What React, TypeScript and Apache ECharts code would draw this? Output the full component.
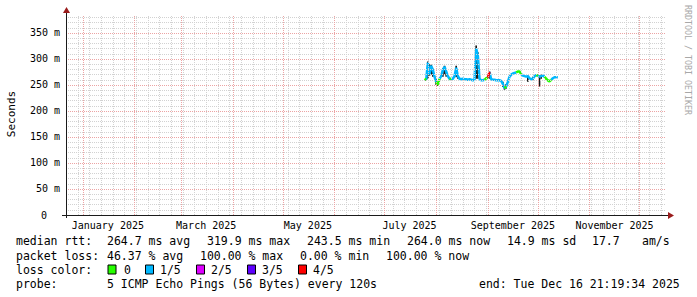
import { useEffect, useRef } from 'react';
import * as echarts from 'echarts';

const DAY = 86400000;
const END_TIME = Date.UTC(2025, 11, 16, 21, 19, 34);
const SPAN_DAYS = 360;
const START_TIME = END_TIME - SPAN_DAYS * DAY;
const DATA_START = Date.UTC(2025, 6, 25);
const Y_MAX = 384.6;

// median rtt (ms), one value per day from DATA_START
const medianMs = [
  262, 260, 293, 270, 287, 279, 266, 256, 250, 262,
  267, 279, 285, 276, 267, 262, 261, 262, 267, 283,
  267, 262, 261, 262, 261, 261, 260, 261, 260, 259,
  260, 320, 306, 262, 259, 259, 260, 263, 264, 275,
  261, 260, 260, 259, 259, 259, 258, 252, 244, 247,
  256, 266, 270, 272, 273, 274, 276, 276, 271, 268,
  267, 266, 267, 263, 261, 262, 267, 269, 268, 266,
  267, 268, 266, 262, 259, 257, 260, 263, 265, 265, 265,
];
// loss level per day (index into lossColors)
const lossLevel = [
  0, 1, 1, 1, 1, 1, 1, 0, 0, 1,
  1, 1, 1, 1, 1, 0, 1, 1, 1, 1,
  1, 1, 1, 1, 1, 1, 1, 1, 1, 1,
  1, 1, 1, 1, 1, 1, 0, 0, 4, 1,
  1, 1, 1, 1, 1, 1, 1, 1, 0, 1,
  1, 1, 1, 1, 1, 0, 0, 0, 1, 1,
  1, 1, 1, 1, 1, 1, 1, 0, 1, 1,
  1, 1, 0, 0, 0, 0, 1, 1, 1, 1, 1,
];
// smoke (min/max of pings) where visible
const smokeDay = [1, 2, 3, 4, 5, 7, 8, 11, 12, 13, 19, 20, 31, 32, 39, 47, 48, 49, 62, 65, 69, 70];
const smokeLow = [258, 262, 268, 270, 266, 250, 248, 266, 270, 266, 265, 262, 262, 262, 262, 246, 241, 243, 256, 258, 247, 262];
const smokeHigh = [262, 295, 290, 289, 281, 262, 252, 282, 287, 278, 287, 270, 326, 313, 276, 256, 250, 252, 268, 266, 268, 270];

const lossLabels = ['0', '1/5', '2/5', '3/5', '4/5'];
const lossColors = ['#26ff00', '#00b8ff', '#dd00ff', '#5e00ff', '#ff0000'];

const MONTHS = ['January', 'February', 'March', 'April', 'May', 'June', 'July', 'August', 'September', 'October', 'November', 'December'];
const monthLabelMonths = [0, 2, 4, 6, 8, 10];
const yTickValues = [0, 50, 100, 150, 200, 250, 300, 350];

const rttStats = ['264.7 ms avg', '319.9 ms max', '243.5 ms min', '264.0 ms now', '14.9 ms sd', '17.7', 'am/s'];
const lossStats = ['46.37 % avg', '100.00 % max', '0.00 % min', '100.00 % now'];
const probeText = '5 ICMP Echo Pings (56 Bytes) every 120s';
const endText = 'end: Tue Dec 16 21:19:34 2025';

const MONO = '"DejaVu Sans Mono", monospace';

function buildOption() {
  const GL = 66, GT = 15, GW = 600, GH = 200;
  const axisY = GT + GH;

  const weekly: number[] = [];
  for (let t = Date.UTC(2024, 11, 22); t <= END_TIME; t += 7 * DAY) weekly.push(t);
  const monthStarts: number[] = [];
  for (let m = 0; m < 12; m++) monthStarts.push(Date.UTC(2025, m, 1));
  const minorY: number[] = [];
  for (let v = 10; v <= 380; v += 10) minorY.push(v);
  const majorY: number[] = [];
  for (let v = 50; v <= 350; v += 50) majorY.push(v);

  const minorStyle = { color: '#d2d2d2', width: 1, type: [1, 1] as any };
  const majorStyle = { color: '#eca4a4', width: 1, type: [1, 1] as any };

  const gridLines = [
    ...weekly.map((t) => ({ xAxis: t, lineStyle: minorStyle })),
    ...minorY.map((v) => ({ yAxis: v, lineStyle: minorStyle })),
    ...monthStarts.map((t) => ({ xAxis: t, lineStyle: majorStyle })),
    ...majorY.map((v) => ({ yAxis: v, lineStyle: majorStyle })),
  ];

  const medianPoints = medianMs.map((v, i) => [DATA_START + i * DAY, v]);
  const levelSeries = lossColors.map((color, L) => ({
    type: 'line',
    name: lossLabels[L],
    data: medianPoints.map((p, i) =>
      lossLevel[i] === L || (i > 0 && lossLevel[i - 1] === L) ? p : [p[0], null]
    ),
    symbol: 'none',
    connectNulls: false,
    lineStyle: { color, width: 2.5 },
    itemStyle: { color },
    z: 3 + (L === 1 ? 0 : 1),
    silent: true,
  }));

  const smokeData = smokeDay.map((d, i) => [DATA_START + d * DAY, smokeLow[i], smokeHigh[i]]);

  const text = (t: string, x: number, y: number, extra: any = {}) => ({
    type: 'text',
    x,
    y,
    silent: true,
    style: {
      text: t,
      fontFamily: MONO,
      fontSize: 11.5,
      fill: '#000',
      align: 'left',
      verticalAlign: 'middle',
      ...extra,
    },
  });

  const rttX = [107, 207, 307, 407, 507, 592, 642];
  const lossX = [107, 200, 300, 386];
  const boxX = [108, 145.5, 196.5, 247.5, 298.5];
  const boxLabelX = [124, 160, 211, 262, 313];
  const rows = [241, 255.5, 269.5, 283.5];

  const graphics: any[] = [
    // axes
    { type: 'line', silent: true, z: 10, shape: { x1: GL + 0.5, y1: axisY + 3, x2: GL + 0.5, y2: GT - 3 }, style: { stroke: '#1a1a1a', lineWidth: 1 } },
    { type: 'line', silent: true, z: 10, shape: { x1: GL - 4, y1: axisY + 0.5, x2: GL + GW + 2, y2: axisY + 0.5 }, style: { stroke: '#1a1a1a', lineWidth: 1 } },
    { type: 'polygon', silent: true, z: 11, shape: { points: [[GL - 3, GT - 2], [GL + 4, GT - 2], [GL + 0.5, GT - 8]] }, style: { fill: '#9a1c1c' } },
    { type: 'polygon', silent: true, z: 11, shape: { points: [[GL + GW + 2, axisY - 3], [GL + GW + 2, axisY + 4], [GL + GW + 8, axisY + 0.5]] }, style: { fill: '#9a1c1c' } },
    // titles
    { type: 'text', x: 11, y: 114, rotation: Math.PI / 2, silent: true, style: { text: 'Seconds', fontFamily: MONO, fontSize: 11, fill: '#000', align: 'center', verticalAlign: 'middle' } },
    { type: 'text', x: 688, y: 60, rotation: -Math.PI / 2, silent: true, style: { text: 'RRDTOOL / TOBI OETIKER', fontFamily: MONO, fontSize: 8.3, fill: '#a8a8a8', align: 'center', verticalAlign: 'middle' } },
    // legend rows
    text('median rtt:', 16, rows[0]),
    ...rttStats.map((s, i) => text(s, rttX[i], rows[0])),
    text('packet loss:', 16, rows[1]),
    ...lossStats.map((s, i) => text(s, lossX[i], rows[1])),
    text('loss color:', 16, rows[2]),
    ...lossColors.map((c, i) => ({
      type: 'rect',
      silent: true,
      shape: { x: boxX[i], y: rows[2] - 4.5, width: 8, height: 9 },
      style: { fill: c, stroke: '#000', lineWidth: 1 },
    })),
    ...lossLabels.map((s, i) => text(s, boxLabelX[i], rows[2])),
    text('probe:', 16, rows[3]),
    text(probeText, 107, rows[3]),
    text(endText, 479, rows[3]),
  ];

  return {
    animation: false,
    backgroundColor: '#ffffff',
    grid: { left: GL, top: GT, width: GW, height: GH, containLabel: false },
    xAxis: {
      type: 'value',
      min: START_TIME,
      max: END_TIME,
      axisLine: { show: false },
      axisTick: { show: false },
      splitLine: { show: false },
      axisLabel: {
        customValues: monthLabelMonths.map((m) => Date.UTC(2025, m, 16)),
        formatter: (v: number) => {
          const d = new Date(v);
          return MONTHS[d.getUTCMonth()] + ' ' + d.getUTCFullYear();
        },
        fontFamily: MONO,
        fontSize: 10,
        color: '#000',
        margin: 5,
      },
    },
    yAxis: {
      type: 'value',
      min: 0,
      max: Y_MAX,
      axisLine: { show: false },
      axisTick: { show: false },
      splitLine: { show: false },
      axisLabel: {
        customValues: yTickValues,
        formatter: (v: number) => (v === 0 ? '{z|0}' : v + ' m'),
        fontFamily: MONO,
        fontSize: 10,
        color: '#000',
        margin: 6,
        rich: { z: { fontFamily: MONO, fontSize: 10, color: '#000', padding: [0, 13, 0, 0] } },
      },
    },
    series: [
      {
        type: 'line',
        data: [[START_TIME, null]],
        symbol: 'none',
        silent: true,
        z: 1,
        lineStyle: { opacity: 0 },
        markLine: {
          silent: true,
          symbol: ['none', 'none'],
          label: { show: false },
          emphasis: { disabled: true },
          data: gridLines,
        },
      },
      {
        type: 'custom',
        data: smokeData,
        silent: true,
        z: 2,
        encode: { x: 0, y: [1, 2] },
        renderItem: (params: any, api: any) => {
          const t = api.value(0);
          const a = api.coord([t, api.value(2)]);
          const b = api.coord([t, api.value(1)]);
          const w = api.size([DAY, 0])[0];
          return {
            type: 'rect',
            shape: { x: a[0] - w / 2, y: a[1], width: w, height: b[1] - a[1] },
            style: { fill: '#1a1a1a' },
          };
        },
      },
      ...levelSeries,
    ],
    graphic: graphics,
  };
}

export default function App() {
  const ref = useRef<HTMLDivElement>(null);
  useEffect(() => {
    const chart = echarts.init(ref.current!, undefined, { renderer: 'svg' });
    chart.setOption(buildOption() as any);
    return () => chart.dispose();
  }, []);
  return <div ref={ref} style={{ position: 'fixed', left: 0, top: 0, width: 697, height: 297, background: '#fff' }} />;
}
